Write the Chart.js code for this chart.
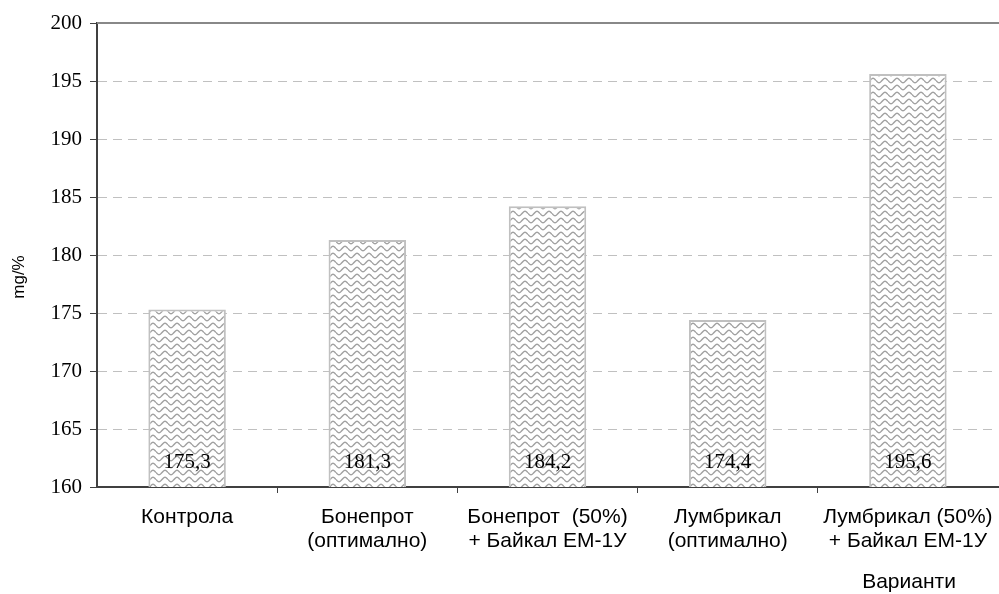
<!DOCTYPE html>
<html>
<head>
<meta charset="utf-8">
<script src="https://cdn.jsdelivr.net/npm/chart.js@4/dist/chart.umd.min.js"></script>
<style>
html,body{margin:0;padding:0;background:#fff;}
#wrap{width:999px;height:594px;position:relative;}
</style>
</head>
<body>
<div id="wrap"><canvas id="c" width="999" height="594"></canvas></div>
<script>
const categories = [
  ["Контрола"],
  ["Бонепрот", "(оптимално)"],
  ["Бонепрот  (50%)", "+ Байкал ЕМ-1У"],
  ["Лумбрикал", "(оптимално)"],
  ["Лумбрикал (50%)", "+ Байкал ЕМ-1У"]
];
const values = [175.3, 181.3, 184.2, 174.4, 195.6];
const yTicks = [160, 165, 170, 175, 180, 185, 190, 195, 200];
const yTitle = "mg/%";
const xTitle = "Варианти";

function makePattern() {
  const p = document.createElement('canvas');
  p.width = 12; p.height = 7;
  const g = p.getContext('2d');
  g.fillStyle = '#ffffff';
  g.fillRect(0, 0, 12, 7);
  g.strokeStyle = '#a0a0a0';
  g.lineWidth = 1.4;
  g.beginPath();
  for (let x = 0; x <= 12; x += 0.5) {
    const y = 3.5 + 2.2 * Math.sin((x / 12) * 2 * Math.PI);
    if (x === 0) g.moveTo(x, y); else g.lineTo(x, y);
  }
  g.stroke();
  const ctx = document.getElementById('c').getContext('2d');
  return ctx.createPattern(p, 'repeat');
}

const extras = {
  id: 'extras',
  afterDatasetsDraw(chart) {
    const ctx = chart.ctx;
    const meta = chart.getDatasetMeta(0);
    const a = chart.chartArea;
    ctx.save();
    // top border line
    ctx.strokeStyle = '#888888';
    ctx.lineWidth = 2;
    ctx.beginPath();
    ctx.moveTo(a.left, a.top);
    ctx.lineTo(a.right + 1, a.top);
    ctx.stroke();
    // value labels
    ctx.fillStyle = '#000';
    ctx.font = '21px "Liberation Serif", "Times New Roman", serif';
    ctx.textAlign = 'center';
    ctx.textBaseline = 'middle';
    meta.data.forEach((bar, i) => {
      ctx.fillText(values[i].toFixed(1).replace('.', ','), bar.x, a.bottom - 25);
    });
    // axis titles
    ctx.font = '17px "Liberation Sans", Arial, sans-serif';
    ctx.save();
    ctx.translate(19, 277);
    ctx.rotate(-Math.PI / 2);
    ctx.fillText(yTitle, 0, 0);
    ctx.restore();
    ctx.font = '21px "Liberation Sans", Arial, sans-serif';
    ctx.fillText(xTitle, 909, 582);
    ctx.restore();
  }
};

new Chart(document.getElementById('c'), {
  type: 'bar',
  data: {
    labels: categories,
    datasets: [{
      data: values,
      backgroundColor: makePattern(),
      borderColor: '#c0c0c0',
      borderWidth: 2,
      borderSkipped: false,
      barPercentage: 0.43,
      categoryPercentage: 1.0
    }]
  },
  options: {
    responsive: false,
    animation: false,
    devicePixelRatio: 1,
    layout: { padding: { top: 23, right: 1, left: 0, bottom: 0 } },
    plugins: { legend: { display: false }, tooltip: { enabled: false } },
    scales: {
      x: {
        afterFit(s) { s.height = 107; s.paddingLeft = 0; s.paddingRight = 0; },
        grid: {
          offset: true,
          drawOnChartArea: false,
          drawTicks: true,
          tickLength: 6,
          tickColor: (c) => (c.index > 0 && c.index < categories.length) ? '#404040' : 'rgba(0,0,0,0)',
          tickWidth: 1
        },
        border: { display: true, color: '#404040', width: 2 },
        ticks: {
          color: '#000',
          padding: 12,
          maxRotation: 0,
          autoSkip: false,
          font: { family: '"Liberation Sans", Arial, sans-serif', size: 21, lineHeight: 1.15 }
        }
      },
      y: {
        min: 160,
        max: 200,
        afterFit(s) { s.width = 97; },
        afterBuildTicks(s) { s.ticks = yTicks.map(v => ({ value: v })); },
        grid: {
          color: (c) => (c.tick && c.tick.value === 200) ? 'rgba(0,0,0,0)' : '#c0c0c0',
          lineWidth: 1,
          drawTicks: true,
          tickLength: 7,
          tickColor: '#404040',
          tickBorderDash: [],
          tickWidth: 1
        },
        border: { display: true, color: '#404040', width: 2, dash: [9, 6] },
        ticks: {
          color: '#000',
          padding: 8,
          font: { family: '"Liberation Serif", "Times New Roman", serif', size: 21 }
        }
      }
    }
  },
  plugins: [extras]
});
</script>
</body>
</html>
